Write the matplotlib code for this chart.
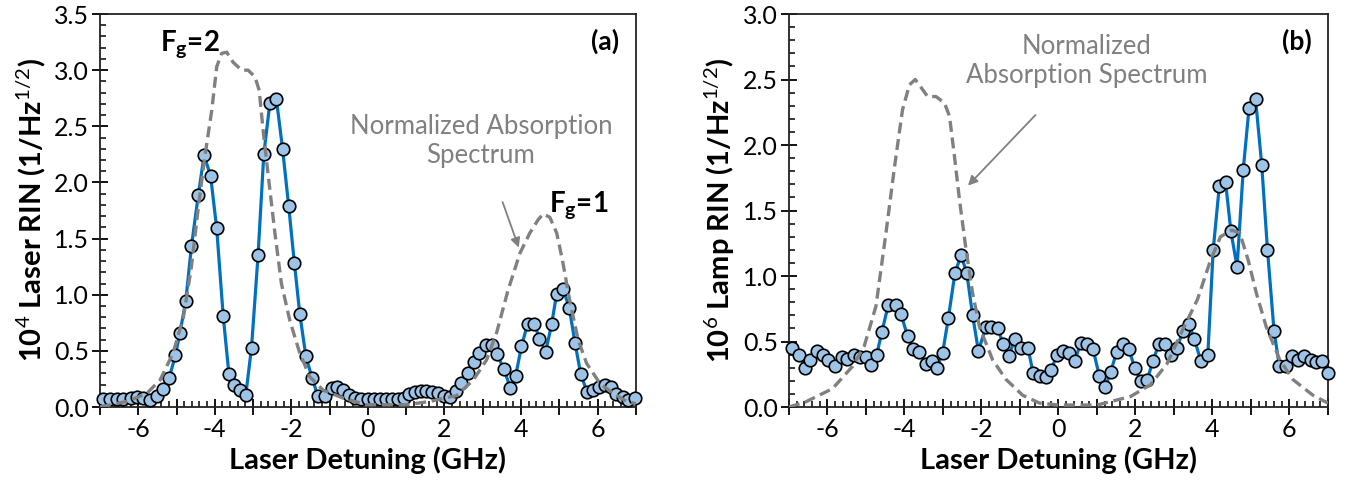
import matplotlib
matplotlib.use("Agg")
import matplotlib.pyplot as plt
from matplotlib.ticker import MultipleLocator, FuncFormatter

plt.rcParams['font.family'] = ['Lato', 'DejaVu Sans']
plt.rcParams['mathtext.fontset'] = 'custom'
plt.rcParams['mathtext.rm'] = 'Lato'
plt.rcParams['mathtext.bf'] = 'Lato:bold'
plt.rcParams['axes.unicode_minus'] = False

# (a) laser RIN vs detuning
laser_x = [-6.93, -6.74, -6.56, -6.39, -6.20, -6.03, -5.87, -5.68, -5.50, -5.35,
           -5.19, -5.03, -4.91, -4.76, -4.61, -4.43, -4.28, -4.11, -3.95, -3.78,
           -3.63, -3.50, -3.34, -3.19, -3.04, -2.87, -2.72, -2.56, -2.39, -2.23,
           -2.07, -1.92, -1.78, -1.62, -1.46, -1.31, -1.13, -0.95, -0.80, -0.65,
           -0.49, -0.33, -0.17, -0.01, 0.15, 0.31, 0.46, 0.62, 0.78, 0.93,
           1.08, 1.23, 1.38, 1.53, 1.68, 1.83, 1.98, 2.14, 2.31, 2.44,
           2.62, 2.78, 2.91, 3.08, 3.25, 3.37, 3.55, 3.72, 3.86, 4.01,
           4.17, 4.35, 4.48, 4.64, 4.80, 4.93, 5.10, 5.26, 5.41, 5.56,
           5.73, 5.88, 6.04, 6.19, 6.35, 6.49, 6.65, 6.80, 6.97]
laser_rin = [0.07, 0.07, 0.07, 0.07, 0.08, 0.09, 0.08, 0.06, 0.10, 0.16,
             0.26, 0.46, 0.66, 0.94, 1.43, 1.89, 2.24, 2.06, 1.59, 0.81,
             0.29, 0.20, 0.15, 0.11, 0.53, 1.35, 2.25, 2.71, 2.74, 2.30,
             1.79, 1.28, 0.83, 0.45, 0.26, 0.10, 0.10, 0.17, 0.18, 0.15,
             0.11, 0.08, 0.07, 0.07, 0.07, 0.07, 0.07, 0.07, 0.07, 0.08,
             0.12, 0.135, 0.145, 0.14, 0.135, 0.125, 0.10, 0.09, 0.14, 0.21,
             0.30, 0.40, 0.48, 0.55, 0.55, 0.47, 0.34, 0.17, 0.28, 0.54,
             0.74, 0.74, 0.61, 0.49, 0.74, 1.01, 1.05, 0.88, 0.57, 0.29,
             0.13, 0.15, 0.175, 0.20, 0.18, 0.12, 0.09, 0.06, 0.08]

abs_a_x = [-7.0, -6.30, -5.78, -5.43, -5.09, -4.82, -4.61, -4.43, -4.26, -4.08,
           -3.95, -3.82, -3.69, -3.52, -3.30, -3.13, -2.95, -2.84, -2.73, -2.60,
           -2.43, -2.26, -2.04, -1.78, -1.52, -1.17, -0.65, -0.04, 1.00, 1.62,
           2.14, 2.31, 2.75, 3.10, 3.36, 3.66, 3.97, 4.23, 4.45, 4.58,
           4.75, 4.93, 5.08, 5.27, 5.49, 5.71, 6.06, 6.41, 6.76, 7.0]
abs_a = [0.0, 0.05, 0.12, 0.24, 0.48, 0.80, 1.25, 1.78, 2.23, 2.64,
         3.03, 3.15, 3.16, 3.07, 3.00, 3.00, 2.94, 2.82, 2.44, 2.05,
         1.55, 1.10, 0.77, 0.48, 0.27, 0.15, 0.08, 0.02, 0.02, 0.05,
         0.09, 0.10, 0.24, 0.42, 0.66, 1.04, 1.37, 1.55, 1.67, 1.72,
         1.69, 1.55, 1.31, 0.95, 0.60, 0.39, 0.21, 0.12, 0.05, 0.03]

# (b) lamp RIN vs detuning
lamp_x = [-6.91, -6.74, -6.58, -6.45, -6.28, -6.11, -5.98, -5.81, -5.63, -5.48,
          -5.31, -5.16, -5.01, -4.87, -4.72, -4.59, -4.42, -4.23, -4.09, -3.92,
          -3.77, -3.62, -3.45, -3.29, -3.16, -3.01, -2.86, -2.69, -2.53, -2.38,
          -2.23, -2.08, -1.88, -1.74, -1.57, -1.44, -1.29, -1.13, -0.96, -0.79,
          -0.66, -0.49, -0.32, -0.19, -0.04, 0.11, 0.27, 0.42, 0.58, 0.75,
          0.90, 1.06, 1.22, 1.36, 1.51, 1.67, 1.83, 1.98, 2.14, 2.31,
          2.45, 2.61, 2.78, 2.93, 3.08, 3.23, 3.39, 3.53, 3.70, 3.88,
          4.02, 4.18, 4.34, 4.48, 4.64, 4.80, 4.95, 5.12, 5.28, 5.43,
          5.60, 5.74, 5.90, 6.06, 6.23, 6.38, 6.55, 6.69, 6.85, 7.0]
lamp_rin = [0.45, 0.40, 0.30, 0.36, 0.43, 0.40, 0.36, 0.31, 0.38, 0.37,
            0.40, 0.38, 0.38, 0.32, 0.40, 0.57, 0.78, 0.78, 0.71, 0.54,
            0.44, 0.42, 0.33, 0.35, 0.30, 0.41, 0.68, 1.02, 1.16, 1.02,
            0.70, 0.43, 0.61, 0.61, 0.60, 0.48, 0.39, 0.52, 0.45, 0.45,
            0.26, 0.24, 0.23, 0.28, 0.40, 0.43, 0.41, 0.35, 0.49, 0.48,
            0.44, 0.24, 0.155, 0.27, 0.42, 0.48, 0.44, 0.30, 0.20, 0.21,
            0.35, 0.48, 0.48, 0.40, 0.45, 0.58, 0.63, 0.52, 0.35, 0.40,
            1.20, 1.69, 1.72, 1.34, 1.07, 1.81, 2.28, 2.35, 1.85, 1.20,
            0.58, 0.31, 0.31, 0.39, 0.36, 0.39, 0.36, 0.34, 0.35, 0.26]

abs_b_x = [-7.0, -6.56, -5.87, -5.35, -5.05, -4.74, -4.48, -4.26, -4.05, -3.87,
           -3.72, -3.57, -3.40, -3.18, -2.96, -2.83, -2.70, -2.57, -2.40, -2.23,
           -2.05, -1.71, -1.36, -0.93, -0.49, 0.0, 1.0, 1.87, 2.39, 2.82,
           3.26, 3.61, 3.95, 4.21, 4.50, 4.71, 4.93, 5.14, 5.40, 5.75,
           6.09, 6.61, 7.0]
abs_b = [0.0, 0.04, 0.14, 0.31, 0.46, 0.77, 1.33, 1.83, 2.27, 2.46,
         2.50, 2.44, 2.37, 2.37, 2.32, 2.22, 1.91, 1.58, 1.20, 0.87,
         0.61, 0.36, 0.21, 0.09, 0.03, 0.015, 0.015, 0.08, 0.17, 0.33,
         0.61, 0.82, 1.12, 1.30, 1.35, 1.33, 1.12, 0.87, 0.61, 0.36,
         0.21, 0.09, 0.03]

blue = '#0070C0'
fill = '#9DC3E6'
grey = '#808080'


def even_only(v, pos):
    n = int(round(v))
    return str(n) if n % 2 == 0 else ''


def style_axes(ax, ymax):
    ax.set_xlim(-7, 7)
    ax.set_ylim(0, ymax)
    ax.xaxis.set_major_locator(MultipleLocator(1))
    ax.xaxis.set_minor_locator(MultipleLocator(0.2))
    ax.xaxis.set_major_formatter(FuncFormatter(even_only))
    ax.yaxis.set_major_locator(MultipleLocator(0.5))
    ax.yaxis.set_minor_locator(MultipleLocator(0.1))
    ax.yaxis.set_major_formatter(FuncFormatter(lambda v, p: f'{v:.1f}'))
    ax.tick_params(which='major', direction='inout', length=12, width=1.3,
                   labelsize=18, pad=2)
    ax.tick_params(which='minor', direction='in', length=4.5, width=1.1)
    for s in ax.spines.values():
        s.set_linewidth(1.3)
        s.set_color('#222222')
    ax.set_xlabel('Laser Detuning (GHz)', fontsize=21, fontweight='bold', labelpad=4)


def draw(ax, x, y, ax_abs, y_abs):
    ax.plot(x, y, color=blue, lw=2.3, marker='o', ms=9, mfc=fill, mec='black',
            mew=1.2, zorder=3, clip_on=False)
    ax.plot(ax_abs, y_abs, color=grey, lw=2.4, ls=(0, (3.3, 1.7)), zorder=4)


fig = plt.figure(figsize=(13.45, 4.83), dpi=100)
ax1 = fig.add_axes([0.0743, 0.1573, 0.3985, 0.8137])
ax2 = fig.add_axes([0.5866, 0.1573, 0.4007, 0.8137])

draw(ax1, laser_x, laser_rin, abs_a_x, abs_a)
style_axes(ax1, 3.5)
ax1.set_ylabel(r'10$^4$ Laser RIN (1/Hz$^{1/2}$)', fontsize=21, fontweight='bold', labelpad=4)
ax1.text(-4.65, 3.23, r'$\mathbf{F_g}$=2', fontsize=20, fontweight='bold',
         ha='center', va='center')
ax1.text(5.51, 1.80, r'$\mathbf{F_g}$=1', fontsize=20, fontweight='bold',
         ha='center', va='center')
ax1.annotate('Normalized Absorption\nSpectrum', xy=(3.94, 1.42), xytext=(2.95, 2.37),
             fontsize=18.5, color=grey, ha='center', va='center', linespacing=1.2,
             arrowprops=dict(arrowstyle='-|>', color=grey, lw=1.3,
                             shrinkA=24, shrinkB=0, mutation_scale=14))
ax1.text(0.942, 0.931, '(a)', transform=ax1.transAxes, fontsize=19,
         fontweight='bold', ha='center', va='center')

draw(ax2, lamp_x, lamp_rin, abs_b_x, abs_b)
style_axes(ax2, 3.0)
ax2.set_ylabel(r'10$^6$ Lamp RIN (1/Hz$^{1/2}$)', fontsize=21, fontweight='bold', labelpad=4)
ax2.annotate('Normalized\nAbsorption Spectrum', xy=(-2.35, 1.69), xytext=(0.74, 2.64),
             fontsize=18.5, color=grey, ha='center', va='center', linespacing=1.2,
             arrowprops=dict(arrowstyle='-|>', color=grey, lw=1.3,
                             shrinkA=24, shrinkB=0, mutation_scale=14))
ax2.text(0.9415, 0.931, '(b)', transform=ax2.transAxes, fontsize=19,
         fontweight='bold', ha='center', va='center')

fig.savefig('out.png', dpi=100)
